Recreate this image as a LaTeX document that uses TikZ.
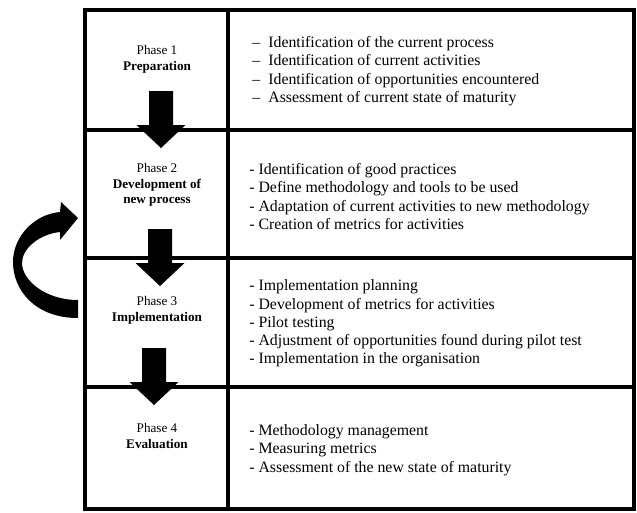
\documentclass[tikz,border=0pt]{standalone}
\usepackage{fontspec}
\setmainfont{Liberation Serif}
\newcommand{\dashitem}{\makebox[0.32cm][l]{--}}

\begin{document}
\begin{tikzpicture}[
    x=0.02cm, y=-0.02cm,
    grid/.style={line width=2.5pt},
    phase/.style={align=center, inner sep=0pt, font=\fontsize{7.5}{8.8}\selectfont},
    tasks/.style={align=left, anchor=west, inner sep=0pt, font=\fontsize{9}{10.4}\selectfont},
    blockarrow/.style={fill=black}
  ]
  \useasboundingbox (0,0) rectangle (637,512);
  % table frame
  \draw[grid] (85,10) rectangle (634,509);
  \draw[grid] (228,10) -- (228,509);
  \foreach \y in {130,258,387}
    \draw[grid] (85,\y) -- (634,\y);

  % phases
  \node[phase] (phase1) at (157,59.5) {Phase 1\\\textbf{Preparation}};
  \node[phase] (phase2) at (157,185) {Phase 2\\\textbf{Development of}\\\textbf{new process}};
  \node[phase] (phase3) at (157,310.5) {Phase 3\\\textbf{Implementation}};
  \node[phase] (phase4) at (157,436) {Phase 4\\\textbf{Evaluation}};

  % activities
  \node[tasks] (tasks1) at (252,71) {\dashitem Identification of the current process\\
    \dashitem Identification of current activities\\
    \dashitem Identification of opportunities encountered\\
    \dashitem Assessment of current state of maturity};
  \node[tasks] (tasks2) at (249,196.5) {- Identification of good practices\\
    - Define methodology and tools to be used\\
    - Adaptation of current activities to new methodology\\
    - Creation of metrics for activities};
  \node[tasks] (tasks3) at (249,323.5) {- Implementation planning\\
    - Development of metrics for activities\\
    - Pilot testing\\
    - Adjustment of opportunities found during pilot test\\
    - Implementation in the organisation};
  \node[tasks] (tasks4) at (249,450) {- Methodology management\\
    - Measuring metrics\\
    - Assessment of the new state of maturity};

  % block arrows between phases
  \foreach \x/\y in {161/91, 160/229, 154/348}
    \fill[blockarrow] (\x-12,\y) -- (\x+12,\y) -- (\x+12,\y+34) -- (\x+24.5,\y+34)
      -- (\x,\y+57) -- (\x-24.5,\y+34) -- (\x-12,\y+34) -- cycle;

  % loop back from phase 3 to phase 2
  \fill[blockarrow] (78,318) .. controls (35,318) and (13,290) .. (13,262)
    .. controls (13,236) and (35,214) .. (60,212) -- (61,202) -- (78,218)
    -- (60,240) -- (60,232) .. controls (40,234) and (22,248) .. (22,263)
    .. controls (22,280) and (45,300) .. (78,300) -- cycle;
\end{tikzpicture}
\end{document}
